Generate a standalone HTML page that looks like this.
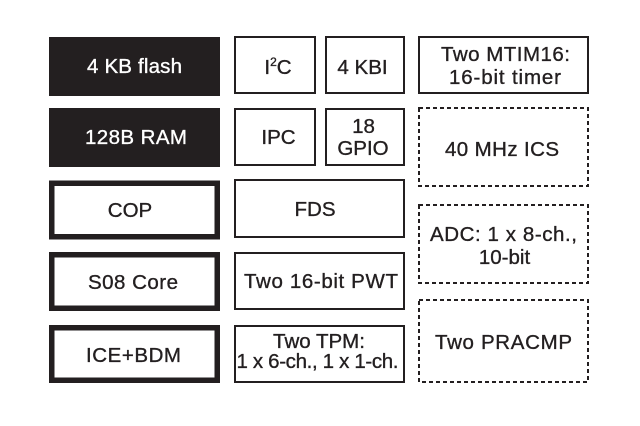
<!DOCTYPE html>
<html><head><meta charset="utf-8"><style>
html,body{margin:0;padding:0;background:#fff;}
svg{display:block;}
text{font-family:"Liberation Sans",Arial,sans-serif;font-size:20.5px;fill:#231f20;stroke:#231f20;stroke-width:0.35;text-anchor:middle;}
.w{fill:#fff;stroke:#fff;}
</style></head><body>
<svg width="640" height="426" viewBox="0 0 640 426" xmlns="http://www.w3.org/2000/svg">
<rect width="640" height="426" fill="#fff"/>
<!-- column 1 -->
<rect x="49" y="37" width="171" height="59" fill="#231f20"/>
<rect x="49" y="108" width="171" height="59" fill="#231f20"/>
<rect x="51.75" y="183.25" width="165.5" height="53.5" fill="none" stroke="#231f20" stroke-width="5.5"/>
<rect x="51.75" y="254.75" width="165.5" height="53.5" fill="none" stroke="#231f20" stroke-width="5.5"/>
<rect x="51.75" y="327.75" width="165.5" height="52.5" fill="none" stroke="#231f20" stroke-width="5.5"/>
<text class="w" x="134.5" y="73" textLength="95" lengthAdjust="spacing">4 KB flash</text>
<text class="w" x="136" y="144" textLength="102" lengthAdjust="spacing">128B RAM</text>
<text x="130" y="217">COP</text>
<text x="133" y="289" textLength="90" lengthAdjust="spacing">S08 Core</text>
<text x="133.5" y="362" textLength="95" lengthAdjust="spacing">ICE+BDM</text>
<!-- column 2 -->
<g fill="none" stroke="#231f20" stroke-width="2">
<rect x="235" y="37" width="80" height="56"/>
<rect x="326" y="37" width="78" height="56"/>
<rect x="235" y="109" width="80" height="56"/>
<rect x="326" y="109" width="78" height="56"/>
<rect x="235" y="180" width="169" height="57"/>
<rect x="235" y="253" width="169" height="56"/>
<rect x="235" y="326" width="169" height="56"/>
<rect x="419" y="37" width="169" height="56"/>
</g>
<text x="278" y="74">I<tspan font-size="12" dy="-8">2</tspan><tspan dy="8">C</tspan></text>
<text x="362.5" y="74">4 KBI</text>
<text x="278.5" y="144">IPC</text>
<text x="363.5" y="133">18</text>
<text x="363" y="155">GPIO</text>
<text x="315" y="216">FDS</text>
<text x="321" y="288" textLength="154" lengthAdjust="spacing">Two 16-bit PWT</text>
<text x="319" y="348">Two TPM:</text>
<text x="317.5" y="368" textLength="162" lengthAdjust="spacing">1 x 6-ch., 1 x 1-ch.</text>
<!-- column 3 -->
<g fill="none" stroke="#231f20" stroke-width="2" stroke-dasharray="4 3">
<rect x="419" y="108" width="169" height="78"/>
<rect x="419" y="205" width="169" height="78"/>
<rect x="419" y="300" width="169" height="82"/>
</g>
<text x="505.5" y="61" textLength="129" lengthAdjust="spacing">Two MTIM16:</text>
<text x="505" y="84" textLength="112" lengthAdjust="spacing">16-bit timer</text>
<text x="502" y="156" textLength="114" lengthAdjust="spacing">40 MHz ICS</text>
<text x="503.5" y="241" textLength="147" lengthAdjust="spacing">ADC: 1 x 8-ch.,</text>
<text x="504.5" y="264">10-bit</text>
<text x="503.5" y="349" textLength="137" lengthAdjust="spacing">Two PRACMP</text>
</svg>
</body></html>
